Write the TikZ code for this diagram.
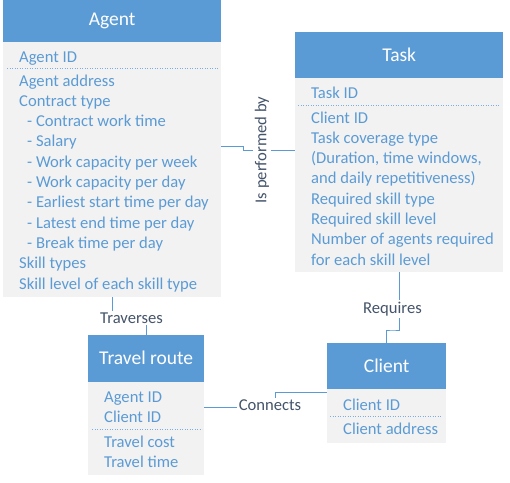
\documentclass[tikz,border=0pt]{standalone}
\usepackage{fontspec}
\setmainfont{Carlito}
\usepackage{xcolor}
\usetikzlibrary{backgrounds}

\definecolor{headblue}{HTML}{5B9BD5}
\definecolor{bodygray}{HTML}{F2F2F2}
\definecolor{labelgray}{HTML}{44546A}
\newcommand{\subrow}{\hspace{8pt}- }

\tikzset{
  head/.style={fill=headblue, text=white, inner sep=0, anchor=north west,
    font=\fontsize{19.5}{23}\selectfont, text height=12.5pt, text depth=0pt},
  body/.style={fill=bodygray, inner sep=0, anchor=north west},
  item/.style={text=headblue, inner sep=0, anchor=base west,
    font=\fontsize{16.6}{20.3}\selectfont},
  rel/.style={text=labelgray, fill=white, inner sep=2pt,
    font=\fontsize{16.6}{20.3}\selectfont},
  sep/.style={headblue!80, dotted, line width=0.5pt},
  link/.style={headblue, line width=0.8pt}
}

\begin{document}
\begin{tikzpicture}[x=1pt, y=-1pt]
\clip (0,0) rectangle (510,482);

% Agent
\node[head, minimum width=218, minimum height=46] (agent-h) at (3,-4) {Agent};
\node[body, minimum width=218, minimum height=255] (agent) at (3,42) {};
\node[item] (agent-id) at (19,62) {Agent ID};
\draw[sep] (7,68) -- (218,68);
\foreach \t [count=\i from 0] in {Agent address, Contract type,
  \subrow Contract work time, \subrow Salary, \subrow Work capacity per week,
  \subrow Work capacity per day, \subrow Earliest start time per day,
  \subrow Latest end time per day, \subrow Break time per day,
  Skill types, Skill level of each skill type}
  \node[item] (agent-\i) at (19,86+20.3*\i) {\t};

% Task
\node[head, minimum width=208, minimum height=46] (task-h) at (295,32) {Task};
\node[body, minimum width=208, minimum height=194] (task) at (295,78) {};
\node[item] (task-id) at (311,98) {Task ID};
\draw[sep] (298,105) -- (499,105);
\foreach \t [count=\i from 0] in {Client ID, Task coverage type,
  {(Duration, time windows,}, and daily repetitiveness), Required skill type,
  Required skill level, Number of agents required, for each skill level}
  \node[item] (task-\i) at (311,123+20.3*\i) {\t};

% Travel route
\node[head, minimum width=116, minimum height=47] (route-h) at (88,335) {Travel route};
\node[body, minimum width=116, minimum height=93] (route) at (88,382) {};
\node[item] (route-1) at (104,402) {Agent ID};
\node[item] (route-2) at (104,422) {Client ID};
\draw[sep] (92,429) -- (202,429);
\node[item] (route-3) at (104,447) {Travel cost};
\node[item] (route-4) at (104,467) {Travel time};

% Client
\node[head, minimum width=119, minimum height=46] (client-h) at (327,343) {Client};
\node[body, minimum width=119, minimum height=54] (client) at (327,389) {};
\node[item] (client-1) at (343,410) {Client ID};
\draw[sep] (330,416) -- (442,416);
\node[item] (client-2) at (343,434) {Client address};

% relations
\node[rel, rotate=90] (performed) at (262,150) {Is performed by};
\node[rel] (traverses) at (131.5,318) {Traverses};
\node[rel] (requires) at (392.5,309) {Requires};
\node[rel] (connects) at (270,405) {Connects};

\begin{scope}[on background layer]
\draw[link] ([yshift=23.5pt]agent.east) -- ++(22,0) |- (task.west |- performed);
\draw[link] (agent.south) |- (traverses.center) -| (route-h.north);
\draw[link] (task.south) |- ([yshift=-21pt]requires.center) -| (client-h.north);
\draw[link] ([yshift=24pt]client.west) -| ([xshift=5pt]connects.center) |- ([yshift=21.5pt]route.east);
\end{scope}
\end{tikzpicture}
\end{document}
